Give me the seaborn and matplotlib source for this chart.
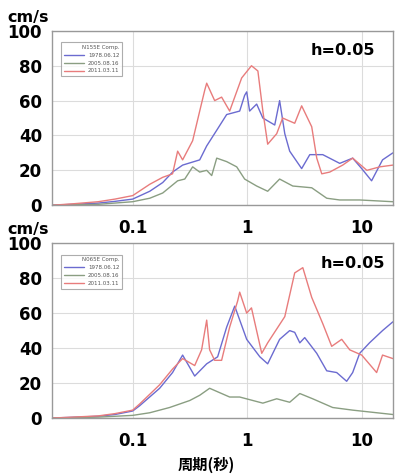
import numpy as np
import pandas as pd
import matplotlib
matplotlib.use('Agg')
import matplotlib.pyplot as plt
import matplotlib.ticker as mticker
import seaborn as sns

# Event labels and colours
events = ['1978.06.12', '2005.08.16', '2011.03.11']
colors = ['#6b6bd0', '#8a9e82', '#e87c7c']

# Top panel (N155E) : period [s] / velocity response [cm/s]
top_T_1978 = [0.02, 0.03, 0.05, 0.07, 0.1, 0.141, 0.183, 0.223, 0.273, 0.385, 0.443, 0.542,
              0.662, 0.86, 0.95, 0.99, 1.05, 1.21, 1.37, 1.74, 1.92, 2.13, 2.35, 2.99,
              3.52, 4.57, 6.43, 8.34, 10.0, 12.2, 15.2, 18.7]
top_v_1978 = [0, 0.5, 1.2, 2.2, 3.5, 8, 13, 19, 23, 26, 34, 43,
              52, 54, 63, 65, 54, 58, 50, 46, 60, 41, 31, 21,
              29, 29, 24, 27, 21, 14, 26, 30]

top_T_2005 = [0.02, 0.05, 0.1, 0.141, 0.183, 0.247, 0.285, 0.334, 0.385, 0.443, 0.49, 0.542,
              0.662, 0.81, 0.95, 1.21, 1.51, 1.92, 2.5, 3.66, 4.95, 6.43, 9.6, 18.7]
top_v_2005 = [0, 0.5, 2, 4, 7, 14, 15, 22, 19, 20, 17, 27,
              25, 22, 15, 11, 8, 15, 11, 10, 4, 3, 3, 2]

top_T_2011 = [0.02, 0.03, 0.05, 0.07, 0.1, 0.141, 0.183, 0.223, 0.247, 0.273, 0.334, 0.385,
              0.426, 0.443, 0.52, 0.598, 0.703, 0.895, 1.09, 1.24, 1.37, 1.51, 1.81, 2.04,
              2.6, 2.99, 3.66, 4.05, 4.48, 5.26, 6.82, 8.34, 11.1, 14.4, 18.7]
top_v_2011 = [0, 0.8, 2, 3.5, 5.5, 12, 16, 18, 31, 26, 37, 54,
              66, 70, 60, 62, 54, 73, 80, 77, 54, 35, 41, 50,
              47, 57, 45, 27, 18, 19, 23, 27, 20, 22, 23]

# Bottom panel (N065E)
bot_T_1978 = [0.02, 0.03, 0.05, 0.07, 0.1, 0.115, 0.172, 0.223, 0.273, 0.348, 0.443, 0.552,
              0.662, 0.778, 0.99, 1.29, 1.51, 1.92, 2.35, 2.6, 2.88, 3.18, 4.05, 4.95,
              6.05, 7.39, 8.34, 9.6, 11.7, 15.2, 18.7]
bot_v_1978 = [0, 0.4, 1, 2, 4, 7, 17, 26, 36, 24, 31, 35,
              52, 64, 45, 35, 31, 45, 50, 49, 43, 46, 37, 27,
              26, 21, 26, 37, 43, 50, 55]

bot_T_2005 = [0.02, 0.05, 0.1, 0.141, 0.21, 0.315, 0.385, 0.47, 0.552, 0.703, 0.86, 1.37,
              1.81, 2.35, 2.88, 3.73, 5.58, 8.34, 18.7]
bot_v_2005 = [0, 0.5, 1.5, 3, 6, 10, 13, 17, 15, 12, 12, 8.5,
              11, 9, 14, 11, 6, 4.5, 2]

bot_T_2011 = [0.02, 0.03, 0.05, 0.07, 0.1, 0.115, 0.172, 0.223, 0.273, 0.348, 0.40, 0.443,
              0.47, 0.52, 0.598, 0.703, 0.826, 0.86, 0.99, 1.09, 1.34, 1.51, 2.13, 2.6,
              3.06, 3.66, 4.57, 5.47, 6.69, 7.86, 10.0, 13.5, 15.2, 18.7]
bot_v_2011 = [0, 0.5, 1.2, 2.5, 4.5, 8, 19, 28, 34, 30, 39, 56,
              39, 33, 33, 52, 67, 72, 60, 63, 37, 43, 58, 83,
              86, 69, 54, 41, 45, 39, 36, 26, 36, 34]

x_ticks = [0.1, 1, 10]
y_ticks = [0, 20, 40, 60, 80, 100]


def long_df(Ts, vs):
    frames = []
    for ev, T, v in zip(events, Ts, vs):
        frames.append(pd.DataFrame({'period': T, 'vel': v, 'event': ev}))
    return pd.concat(frames, ignore_index=True)


top_df = long_df([top_T_1978, top_T_2005, top_T_2011], [top_v_1978, top_v_2005, top_v_2011])
bot_df = long_df([bot_T_1978, bot_T_2005, bot_T_2011], [bot_v_1978, bot_v_2005, bot_v_2011])

sns.set_style('white')
plt.rcParams['font.family'] = ['DejaVu Sans']

fig = plt.figure(figsize=(3.96, 4.75), dpi=100)
ax1 = fig.add_axes([0.131, 0.568, 0.861, 0.367])
ax2 = fig.add_axes([0.131, 0.120, 0.861, 0.368])

panels = [(ax1, top_df, 'N155E Comp.', (0.947, 0.89)),
          (ax2, bot_df, 'N065E Comp.', (0.977, 0.886))]

for ax, df, comp, hpos in panels:
    sns.lineplot(data=df, x='period', y='vel', hue='event', hue_order=events,
                 palette=colors, estimator=None, linewidth=1.0, ax=ax)
    ax.set_xscale('log')
    ax.set_xlim(0.0197, 18.7)
    ax.set_ylim(0, 100)
    ax.xaxis.set_major_locator(mticker.FixedLocator(x_ticks))
    ax.xaxis.set_major_formatter(mticker.FixedFormatter(['0.1', '1', '10']))
    ax.xaxis.set_minor_locator(mticker.LogLocator(base=10, subs=np.arange(2, 10)))
    ax.xaxis.set_minor_formatter(mticker.NullFormatter())
    ax.set_yticks(y_ticks)
    ax.grid(True, which='major', color='#dcdcdc', linewidth=0.8)
    ax.tick_params(axis='both', which='major', labelsize=12, length=3,
                   color='#888888', labelcolor='black', pad=4)
    ax.tick_params(axis='x', which='major', pad=7)
    ax.tick_params(axis='x', which='minor', length=2.5, color='#888888', direction='in')
    for lab in ax.get_xticklabels() + ax.get_yticklabels():
        lab.set_fontweight('bold')
    for sp in ax.spines.values():
        sp.set_color('#999999')
        sp.set_linewidth(1.0)
    ax.set_xlabel('')
    ax.set_ylabel('')
    ax.text(hpos[0], hpos[1], 'h=0.05', transform=ax.transAxes, ha='right', va='center',
            fontsize=11.5, fontweight='bold', color='black')
    ax.text(-0.13, 1.035, 'cm/s', transform=ax.transAxes, ha='left', va='bottom',
            fontsize=11.5, fontweight='bold', color='black')
    leg = ax.legend(loc='upper left', bbox_to_anchor=(0.02, 0.95), title=comp,
                    fontsize=4, title_fontsize=4, frameon=True, fancybox=False,
                    handlelength=3.5, borderpad=0.5, labelspacing=0.5,
                    alignment='right')
    leg.get_frame().set_edgecolor('#999999')
    leg.get_frame().set_linewidth(0.8)
    for t in leg.get_texts():
        t.set_color('#555555')
    leg.get_title().set_color('#555555')

fig.text(0.52, 0.021, '周期(秒)', ha='center', va='center', fontsize=11,
         fontweight='bold', color='black', family=['Noto Sans CJK JP', 'DejaVu Sans'])

fig.savefig('out.png', dpi=100)
